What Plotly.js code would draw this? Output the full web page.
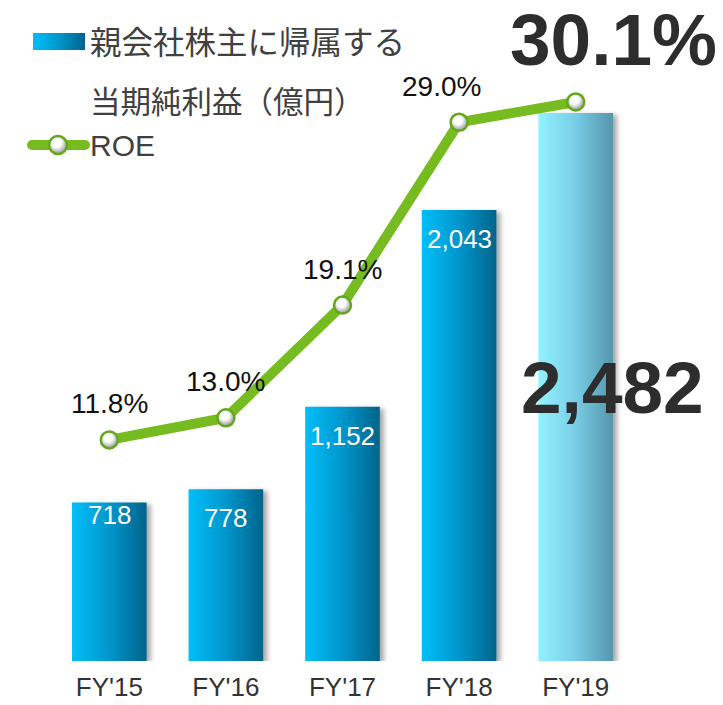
<!DOCTYPE html>
<html>
<head>
<meta charset="utf-8">
<script src="https://cdn.plot.ly/plotly-3.0.1.min.js"></script>
<style>
  html, body { margin: 0; padding: 0; background: #fff; }
  #chart { width: 723px; height: 705px; }
</style>
</head>
<body>
<div id="chart"></div>
<script>
// ---- data ----
const categories = ["FY'15", "FY'16", "FY'17", "FY'18", "FY'19"];
const netIncome = [718, 778, 1152, 2043, 2482];
const roe = [11.8, 13.0, 19.1, 29.0, 30.1];
const legendBarLabel = "親会社株主に帰属する";
const legendBarLabel2 = "当期純利益（億円）";
const legendLineLabel = "ROE";

// ---- layout helpers (pixel -> paper) ----
const W = 723, H = 705;
const M = { l: 51, r: 89, t: 0, b: 44 };
const PW = W - M.l - M.r, PH = H - M.t - M.b;
const px = x => (x - M.l) / PW;
const py = y => 1 - (y - M.t) / PH;

const NUM_FONT = "Liberation Sans, Arial, sans-serif";
const JP_FONT = "Noto Sans CJK JP, sans-serif";
const GREEN = "#76bc21";
const last = categories.length - 1;

const fmt = v => v.toLocaleString('en-US');

const barTrace = {
  type: 'bar',
  x: categories,
  y: netIncome,
  width: 0.64,
  marker: { color: '#0093c8', line: { width: 0 } },
  hoverinfo: 'skip',
  showlegend: false
};

const lineTrace = {
  type: 'scatter',
  mode: 'lines+markers',
  x: categories,
  y: roe,
  yaxis: 'y2',
  line: { color: GREEN, width: 10 },
  marker: {
    symbol: 'circle', size: 17, color: '#ffffff',
    line: { color: '#62a81a', width: 2.5 }
  },
  cliponaxis: false,
  hoverinfo: 'skip',
  showlegend: false
};

const annotations = [];
// value labels inside bars (white)
netIncome.forEach((v, i) => {
  if (i === last) return;
  annotations.push({
    x: categories[i], y: v, xref: 'x', yref: 'y',
    text: fmt(v), showarrow: false, yanchor: 'middle',
    yshift: i === 0 ? -13 : -29,
    font: { family: NUM_FONT, size: 26, color: '#ffffff' }
  });
});
// ROE labels
roe.forEach((v, i) => {
  if (i === last) return;
  annotations.push({
    x: categories[i], y: v, xref: 'x', yref: 'y2',
    text: v.toFixed(1) + '%', showarrow: false,
    xshift: i === 3 ? -18 : 0, yshift: 36,
    font: { family: NUM_FONT, size: 28, color: '#111111' }
  });
});
// big highlighted values for latest year
annotations.push({
  x: categories[last], y: roe[last], xref: 'x', yref: 'y2',
  text: '<b>' + roe[last].toFixed(1) + '%</b>', showarrow: false,
  xshift: 38, yshift: 63, height: 60, valign: 'middle',
  font: { family: NUM_FONT, size: 73, color: '#2d2d2d' }
});
annotations.push({
  x: categories[last], y: netIncome[last] / 2, xref: 'x', yref: 'y',
  text: '<b>' + fmt(netIncome[last]) + '</b>', showarrow: false,
  xshift: 37, yshift: 0,
  font: { family: NUM_FONT, size: 73, color: '#2d2d2d' }
});
// legend texts
annotations.push({
  x: px(88), y: py(40), xref: 'paper', yref: 'paper', xanchor: 'left', yanchor: 'middle',
  text: legendBarLabel, showarrow: false,
  font: { family: JP_FONT, size: 31.5, color: '#404040' }
});
annotations.push({
  x: px(88), y: py(100), xref: 'paper', yref: 'paper', xanchor: 'left', yanchor: 'middle',
  text: legendBarLabel2, showarrow: false,
  font: { family: JP_FONT, size: 30.5, color: '#404040' }
});
annotations.push({
  x: px(88), y: py(146), xref: 'paper', yref: 'paper', xanchor: 'left', yanchor: 'middle',
  text: legendLineLabel, showarrow: false,
  font: { family: NUM_FONT, size: 30, color: '#404040' }
});

const shapes = [
  { type: 'rect', xref: 'paper', yref: 'paper', x0: px(33), x1: px(85), y0: py(50), y1: py(33),
    fillcolor: '#0093c8', line: { width: 0 } },
  { type: 'line', xref: 'paper', yref: 'paper', x0: px(32), x1: px(85), y0: py(145), y1: py(145),
    line: { color: GREEN, width: 10 } },
  { type: 'circle', xref: 'paper', yref: 'paper', x0: px(49), x1: px(67), y0: py(154), y1: py(136),
    fillcolor: '#ffffff', line: { color: '#62a81a', width: 2.5 } }
];

const layout = {
  width: W, height: H,
  margin: M,
  paper_bgcolor: '#ffffff',
  plot_bgcolor: 'rgba(0,0,0,0)',
  showlegend: false,
  bargap: 0.36,
  xaxis: {
    type: 'category', range: [-0.5, 4.5],
    showgrid: false, zeroline: false, showline: false, ticks: '',
    ticklabelstandoff: 8,
    tickfont: { family: NUM_FONT, size: 26, color: '#333333' },
    fixedrange: true
  },
  yaxis: { range: [0, 2994], visible: false, fixedrange: true },
  yaxis2: { range: [-0.17, 35.62], overlaying: 'y', visible: false, fixedrange: true },
  annotations: annotations,
  shapes: shapes
};

Plotly.newPlot('chart', [barTrace, lineTrace], layout, { staticPlot: true, displayModeBar: false })
.then(gd => {
  const NS = 'http://www.w3.org/2000/svg';
  const svg = gd.querySelector('.main-svg');
  let defs = svg.querySelector('defs');
  if (!defs) { defs = document.createElementNS(NS, 'defs'); svg.insertBefore(defs, svg.firstChild); }
  function linGrad(id, stops) {
    const g = document.createElementNS(NS, 'linearGradient');
    g.setAttribute('id', id);
    g.setAttribute('x1', '0'); g.setAttribute('x2', '1'); g.setAttribute('y1', '0'); g.setAttribute('y2', '0');
    stops.forEach(([o, c]) => {
      const s = document.createElementNS(NS, 'stop');
      s.setAttribute('offset', o); s.setAttribute('stop-color', c);
      g.appendChild(s);
    });
    defs.appendChild(g);
  }
  linGrad('gradBlue', [['0', '#00bff8'], ['0.5', '#0096cc'], ['1', '#00648a']]);
  linGrad('gradLight', [['0', '#92f2ff'], ['0.5', '#78cde6'], ['1', '#5596ac']]);
  const rg = document.createElementNS(NS, 'radialGradient');
  rg.setAttribute('id', 'gradBall');
  rg.setAttribute('cx', '0.45'); rg.setAttribute('cy', '0.4');
  rg.setAttribute('fx', '0.4'); rg.setAttribute('fy', '0.35');
  [['0', '#ffffff'], ['0.5', '#ffffff'], ['1', '#b0b0b0']].forEach(([o, c]) => {
    const s = document.createElementNS(NS, 'stop');
    s.setAttribute('offset', o); s.setAttribute('stop-color', c); rg.appendChild(s);
  });
  defs.appendChild(rg);
  const f = document.createElementNS(NS, 'filter');
  f.setAttribute('id', 'barShadow');
  f.setAttribute('x', '-20%'); f.setAttribute('y', '-10%');
  f.setAttribute('width', '150%'); f.setAttribute('height', '130%');
  const ds = document.createElementNS(NS, 'feDropShadow');
  ds.setAttribute('dx', '4'); ds.setAttribute('dy', '2');
  ds.setAttribute('stdDeviation', '2.5');
  ds.setAttribute('flood-color', '#000'); ds.setAttribute('flood-opacity', '0.35');
  f.appendChild(ds);
  defs.appendChild(f);

  const bars = gd.querySelectorAll('.barlayer .trace .point path');
  bars.forEach((p, i) => {
    p.style.fill = i === bars.length - 1 ? 'url(#gradLight)' : 'url(#gradBlue)';
    p.setAttribute('filter', 'url(#barShadow)');
  });
  gd.querySelectorAll('.scatterlayer .points path').forEach(p => {
    p.style.fill = 'url(#gradBall)';
  });
  const sh = gd.querySelectorAll('.shapelayer path');
  sh.forEach(p => {
    const idx = p.getAttribute('data-index');
    if (idx === '0') p.style.fill = 'url(#gradBlue)';
    if (idx === '1') p.style.strokeLinecap = 'round';
    if (idx === '2') p.style.fill = 'url(#gradBall)';
  });
});
</script>
</body>
</html>
